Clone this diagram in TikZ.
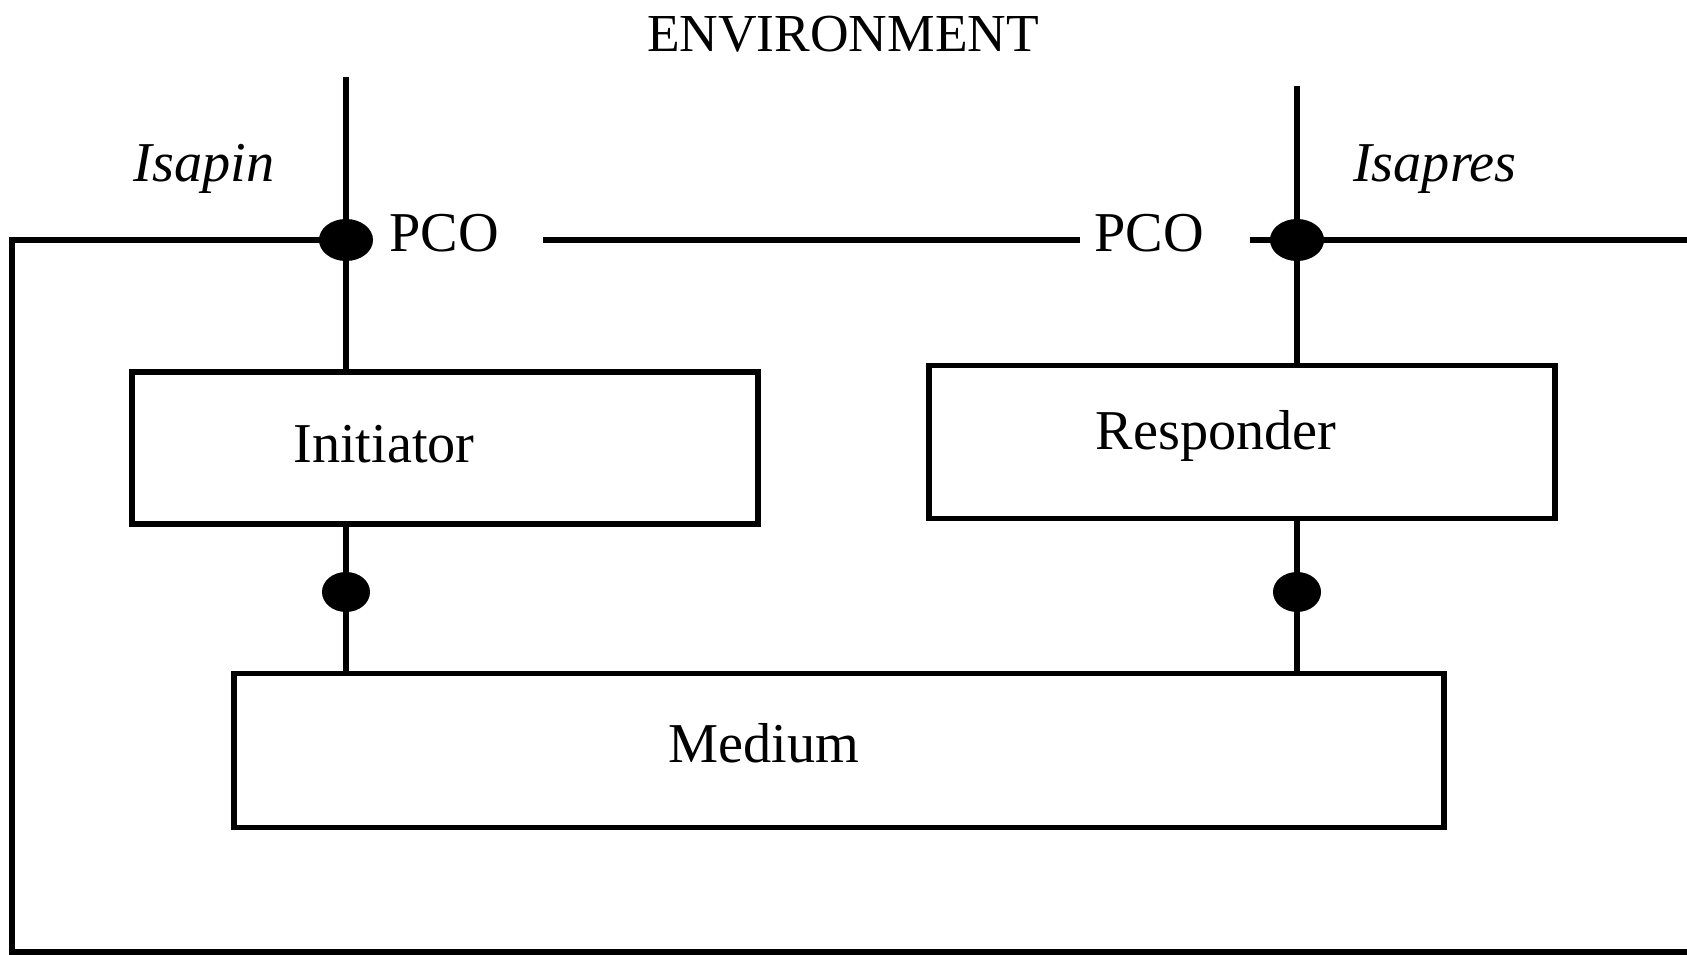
\documentclass[tikz,border=0pt]{standalone}
\usepackage{fontspec}
\setmainfont{Liberation Serif}
\usetikzlibrary{shapes.geometric}
\begin{document}
\begin{tikzpicture}[x=0.01cm,y=-0.01cm,
  wire/.style={line width=1.7pt,line join=miter},
  blk/.style={draw,line width=1.6pt,rectangle,inner sep=0pt},
  port/.style={ellipse,fill=black,inner sep=0pt,minimum width=0.54cm,minimum height=0.42cm},
  joint/.style={ellipse,fill=black,inner sep=0pt,minimum width=0.48cm,minimum height=0.40cm},
  txt/.style={anchor=base,inner sep=0pt,font=\fontsize{16}{19}\selectfont},
  itxt/.style={txt,font=\fontsize{16}{19}\selectfont\itshape}]
\useasboundingbox (0,0) rectangle (1687,955);

% blocks
\node[blk,minimum width=6.26cm,minimum height=1.52cm] (init) at (445,448) {};
\node[blk,minimum width=6.26cm,minimum height=1.53cm] (resp) at (1242,442) {};
\node[blk,minimum width=12.09cm,minimum height=1.54cm] (med) at (839,750.5) {};
\node[txt] (initT) at (384,463) {Initiator};
\node[txt] (respT) at (1216,450) {Responder};
\node[txt] (medT) at (764,763) {Medium};

% labels
\node[txt,font=\fontsize{15.2}{18}\selectfont] (env) at (843,52) {ENVIRONMENT};
\node[itxt] (isapin) at (204,182) {Isapin};
\node[itxt] (isapres) at (1435,182) {Isapres};
\node[txt] (pcoL) at (444,252) {PCO};
\node[txt] (pcoR) at (1149,252) {PCO};

% boundary of the environment
\coordinate (cornerTL) at (12,240);
\coordinate (cornerBL) at (12,952);
\coordinate (edgeB) at (1687,952);
\coordinate (edgeR) at (1687,240);
\coordinate (gapA) at (543,240);
\coordinate (gapB) at (1080,240);
\coordinate (gapC) at (1250,240);
\coordinate (topL) at (346,77);
\coordinate (topR) at (1297,86);
\coordinate (pL) at (346,240);
\coordinate (pR) at (1297,240);

\draw[wire] (pL) -- (cornerTL) -- (cornerBL) -- (edgeB);
\draw[wire] (gapA) -- (gapB);
\draw[wire] (gapC) -- (edgeR);

% vertical connections
\draw[wire] (topL) -- (topL |- init.north);
\draw[wire] (init.south -| topL) -- (med.north -| topL);
\draw[wire] (topR) -- (topR |- resp.north);
\draw[wire] (resp.south -| topR) -- (med.north -| topR);

% points of control and observation, and the joints to the medium
\node[port] (dotL) at (pL) {};
\node[port] (dotR) at (pR) {};
\node[joint] (jL) at (346,592) {};
\node[joint] (jR) at (1297,592) {};
\end{tikzpicture}
\end{document}
